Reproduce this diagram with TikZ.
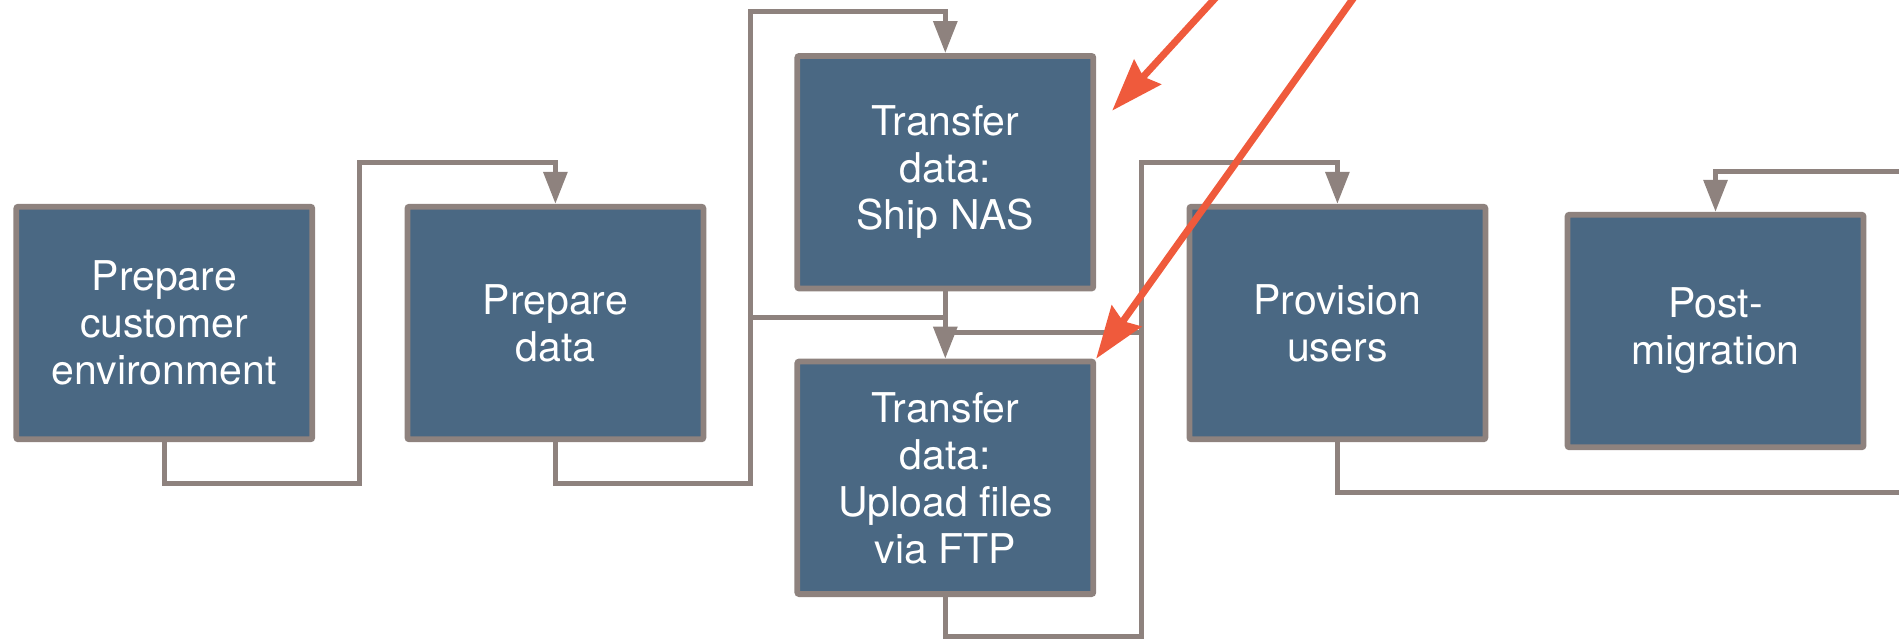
\documentclass[tikz,border=0pt]{standalone}
\usepackage{fontspec}
\setmainfont{TeX Gyre Heros}
\usetikzlibrary{arrows.meta,positioning}
\definecolor{stepblue}{HTML}{4A6883}
\definecolor{linegrey}{HTML}{8E827E}
\definecolor{callred}{HTML}{EF5A3C}
\tikzset{
  task/.style = {draw = linegrey, line width = 2.9pt, fill = stepblue, text = white, align = center,
    minimum width = 148pt, minimum height = 116.3pt, inner sep = 0pt, rounded corners = 1pt,
    font = \fontsize{20.5}{23.5}\selectfont},
  link/.style = {draw = linegrey, line width = 2.5pt},
  flow/.style = {link, -{Triangle[length = 16pt, width = 11.7pt]}},
  callout/.style = {draw = callred, line width = 3.5pt, -{Stealth[length = 26pt, width = 18pt, inset = 3pt]}}
}

\begin{document}
\begin{tikzpicture}[x = 0.5pt, y = -0.5pt]
\useasboundingbox (0,0) rectangle (1899,639);
\clip (0,0) rectangle (1899,639);
\node[task] (prepenv) at (164.3,323) {Prepare\\customer\\environment};
\node[task] (prepdata) at (555.4,323) {Prepare\\data};
\node[task] (shipnas) at (945.3,172.2) {Transfer\\data:\\Ship NAS};
\node[task] (ftp) at (945.3,477.8) {Transfer\\data:\\Upload files\\via FTP};
\node[task] (provision) at (1337.4,323) {Provision\\users};
\node[task] (postmig) at (1715.5,331) {Post-\\migration};
\coordinate (split) at (750,317);
\coordinate (join) at (1141,332);
\coordinate (offright) at (1930,492);
\coordinate (inright) at (1930,171);
\coordinate (redstartA) at (1241,-30);
\coordinate (redstartB) at (1373.5,-30);
\draw[flow] (prepenv.south) |- (359,483) |- ([yshift = 20.5pt]prepdata.north) -- (prepdata.north);
\draw[flow] (prepdata.south) |- (750,483) |- ([yshift = 20.8pt]shipnas.north) -- (shipnas.north);
\draw[flow] (split) -| (ftp.north);
\draw[flow] (shipnas.south) |- (join) |- ([yshift = 20.5pt]provision.north) -- (provision.north);
\draw[link] (ftp.south) |- (1141,636) -- (join);
\draw[link] (provision.south) |- (offright);
\draw[flow] (inright) -| (postmig.north);
\draw[callout] (redstartA) -- ([xshift = 8pt, yshift = 30.8pt]shipnas.east);
\draw[callout] (redstartB) -- (ftp.north east);
\end{tikzpicture}
\end{document}
